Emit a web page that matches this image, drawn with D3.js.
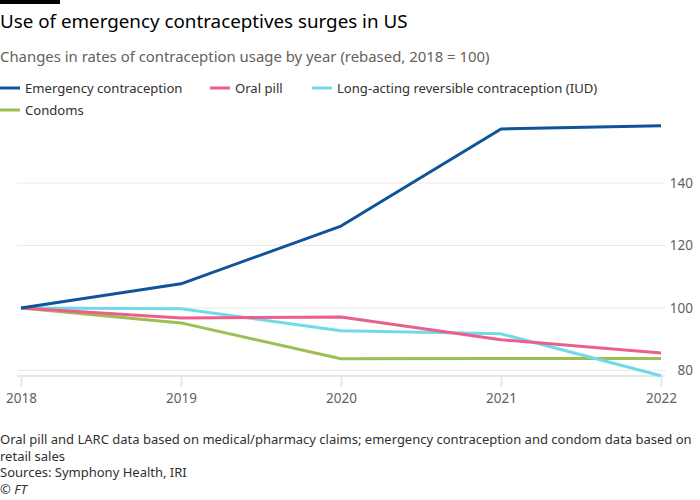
<!DOCTYPE html>
<html>
<head>
<meta charset="utf-8">
<script src="https://cdn.jsdelivr.net/npm/d3@7"></script>
<style>
  body { margin: 0; background: #fff; }
  svg { font-family: "Noto Sans", sans-serif; }
</style>
</head>
<body>
<div id="chart"></div>
<script>
var years = [2018, 2019, 2020, 2021, 2022];
var emergency = [100, 107.7, 126.2, 157.3, 158.3];
var oralPill = [100, 96.8, 97.1, 89.8, 85.6];
var iud = [100, 99.7, 92.7, 91.7, 78.3];
var condoms = [100, 95.2, 83.7, 83.8, 83.8];
var yTicks = [80, 100, 120, 140];

var series = [
    { name: "Emergency contraception", values: emergency, color: "#0f5499" },
    { name: "Oral pill", values: oralPill, color: "#eb5e8d" },
    { name: "Long-acting reversible contraception (IUD)", values: iud, color: "#70dbe7" },
    { name: "Condoms", values: condoms, color: "#9dbe50" }
];

var w = 700, h = 500;
var svg = d3.select("#chart").append("svg")
    .attr("width", w)
    .attr("height", h);

// top black bar
svg.append("rect").attr("x", 0).attr("y", 0).attr("width", 60).attr("height", 4).attr("fill", "#000");

svg.append("text")
    .attr("x", 0).attr("y", 28)
    .attr("font-size", 18.8)
    .attr("fill", "#000")
    .text("Use of emergency contraceptives surges in US");

svg.append("text")
    .attr("x", 0).attr("y", 62)
    .attr("font-size", 14.9)
    .attr("fill", "#66605c")
    .text("Changes in rates of contraception usage by year (rebased, 2018 = 100)");

// legend
var legendPos = [[0, 88], [210, 88], [312, 88], [0, 110]];
series.forEach(function (s, i) {
    var g = svg.append("g").attr("transform", "translate(" + legendPos[i][0] + "," + legendPos[i][1] + ")");
    g.append("line").attr("x1", 0).attr("x2", 20).attr("y1", 0).attr("y2", 0)
        .attr("stroke", s.color).attr("stroke-width", 3);
    g.append("text").attr("x", 25).attr("y", 5)
        .attr("font-size", 13.1).attr("fill", "#33302e")
        .text(s.name);
});

var xScale = d3.scalePoint()
    .domain(years)
    .range([21, 661]);

var yScale = d3.scaleLinear()
    .domain([78.2, 160])
    .range([376, 120.5]);

// gridlines + right labels
var grid = svg.append("g");
grid.selectAll("line")
    .data(yTicks)
    .enter().append("line")
    .attr("x1", 17).attr("x2", 665)
    .attr("y1", function (d) { return yScale(d); })
    .attr("y2", function (d) { return yScale(d); })
    .attr("stroke", function (d) { return d == 140 ? "#fbe0e0" : "#e9e9e9"; })
    .attr("stroke-width", 1);

grid.selectAll("text")
    .data(yTicks)
    .enter().append("text")
    .attr("x", 693)
    .attr("y", function (d) { return yScale(d) + 5; })
    .attr("text-anchor", "end")
    .attr("font-size", 13.5)
    .attr("fill", "#66605c")
    .text(function (d) { return d; });

// x axis
var xAxis = d3.axisBottom(xScale).tickSize(11).tickPadding(6).tickFormat(d3.format("d"));
var xg = svg.append("g")
    .attr("transform", "translate(0,376)")
    .call(xAxis);
xg.select(".domain").attr("d", "M17,0H665").attr("stroke", "#e6e6e6").attr("stroke-width", 2);
xg.selectAll(".tick line").attr("stroke", "#e6e6e6").attr("stroke-width", 2);
xg.selectAll(".tick text").attr("font-size", 13.5).attr("fill", "#66605c")
    .attr("font-family", "Noto Sans, sans-serif");

// lines
var line = d3.line()
    .x(function (d, i) { return xScale(years[i]); })
    .y(function (d) { return yScale(d); });

// draw order: condoms, iud, oral, emergency
[3, 2, 1, 0].forEach(function (k) {
    svg.append("path")
        .datum(series[k].values)
        .attr("d", line)
        .attr("fill", "none")
        .attr("stroke", series[k].color)
        .attr("stroke-width", 3)
        .attr("stroke-linejoin", "round");
});

// footnotes
var notes = [
    "Oral pill and LARC data based on medical/pharmacy claims; emergency contraception and condom data based on",
    "retail sales",
    "Sources: Symphony Health, IRI"
];
notes.forEach(function (t, i) {
    svg.append("text")
        .attr("x", 0).attr("y", 444 + i * 16.5)
        .attr("font-size", 13).attr("fill", "#33302e")
        .text(t);
});
svg.append("text")
    .attr("x", 0).attr("y", 494)
    .attr("font-size", 13).attr("font-style", "italic").attr("fill", "#33302e")
    .text("© FT");
</script>
</body>
</html>
